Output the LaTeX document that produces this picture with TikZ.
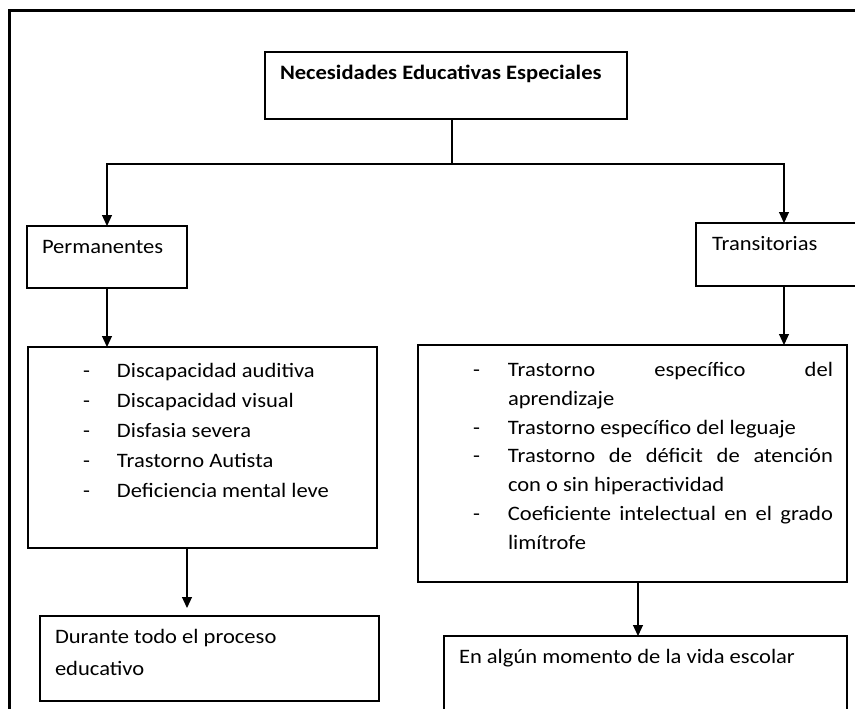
\documentclass[tikz,border=0pt]{standalone}
\usepackage{fontspec}
\setmainfont[FakeStretch=1.1]{Carlito}
\usetikzlibrary{arrows.meta,calc}
\begin{document}
\begin{tikzpicture}[x=1pt,y=-1pt,
  box/.style={draw=black,line width=1.2pt,rectangle,inner sep=0pt,outer sep=0pt,anchor=north west},
  conn/.style={draw=black,line width=1.1pt},
  arr/.style={conn,-{Triangle[width=10pt,length=11pt]}},
  txt/.style={anchor=base west,inner sep=0pt,outer sep=0pt,align=left,font=\fontsize{20.5}{30}\selectfont},
  txtb/.style={txt,font=\fontsize{20.5}{30}\selectfont\bfseries},
  rtxt/.style={txt,font=\fontsize{20.5}{28.7}\selectfont}
]
\clip (0,0) rectangle (855,709);
% outer frame (cut off at right and bottom)
\draw[line width=2.6pt] (9.5,730) -- (9.5,10.5) -- (880,10.5);

% boxes
\node[box,minimum width=362pt,minimum height=67pt] (title) at (265,52) {};
\node[box,minimum width=160pt,minimum height=62pt] (perm) at (27,226) {};
\node[box,minimum width=176pt,minimum height=63pt] (trans) at (696,223) {};
\node[box,minimum width=349pt,minimum height=201pt] (plist) at (28,347) {};
\node[box,minimum width=429pt,minimum height=237pt] (tlist) at (418,345) {};
\node[box,minimum width=339pt,minimum height=85pt] (dur) at (40,616) {};
\node[box,minimum width=403pt,minimum height=100pt] (alg) at (444,636) {};

% texts (base anchor = baseline of the last line)
\node[txtb] (titletxt) at (280,80) {Necesidades Educativas Especiales};
\node[txt] (permtxt) at (42,253) {Permanentes};
\node[txt] (transtxt) at (712,250) {Transitorias};
\node[txt] (plisttxt) at (83,497) {%
\makebox[34pt][l]{-}Discapacidad auditiva\\
\makebox[34pt][l]{-}Discapacidad visual\\
\makebox[34pt][l]{-}Disfasia severa\\
\makebox[34pt][l]{-}Trastorno Autista\\
\makebox[34pt][l]{-}Deficiencia mental leve};
\node[rtxt] (tlisttxt) at (473,549) {%
\makebox[35pt][l]{-}\makebox[325pt][s]{Trastorno específico del}\\
\hspace*{35pt}aprendizaje\\
\makebox[35pt][l]{-}Trastorno específico del leguaje\\
\makebox[35pt][l]{-}\makebox[325pt][s]{Trastorno de déficit de atención}\\
\hspace*{35pt}con o sin hiperactividad\\
\makebox[35pt][l]{-}\makebox[325pt][s]{Coeficiente intelectual en el grado}\\
\hspace*{35pt}limítrofe};
\node[txt,font=\fontsize{20.5}{32}\selectfont] (durtxt) at (55,675) {Durante todo el proceso\\educativo};
\node[txt] (algtxt) at (459,663) {En algún momento de la vida escolar};

% connectors
\coordinate (hub) at (452,164);
\coordinate (pdx) at (187,0);
\coordinate (tax) at (638,0);
\draw[conn] (title.south -| hub) -- (hub);
\draw[arr] (hub) -| (perm.north);
\draw[arr] (hub) -| (trans.north);
\draw[arr] (perm.south) -- (perm.south |- plist.north);
\draw[arr] (trans.south) -- (trans.south |- tlist.north);
\draw[arr,shorten >=8pt] (plist.south -| pdx) -- (dur.north -| pdx);
\draw[arr] (tlist.south -| tax) -- (alg.north -| tax);
\end{tikzpicture}
\end{document}
